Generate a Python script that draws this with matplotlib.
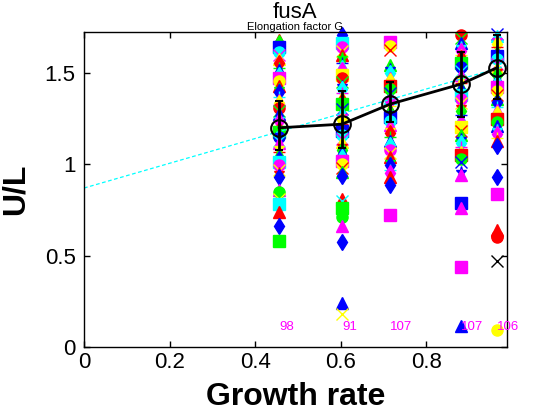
import matplotlib
matplotlib.use('Agg')
import matplotlib.pyplot as plt

plt.rcParams['font.family'] = ['Liberation Sans', 'DejaVu Sans']

# growth rate of each condition and its summary numbers
growth = [0.456, 0.603, 0.716, 0.882, 0.966]
counts = [98, 91, 107, 107, 106]
mean_ul = [1.20, 1.22, 1.33, 1.44, 1.53]
err_low = [0.12, 0.13, 0.10, 0.18, 0.17]
err_high = [0.145, 0.18, 0.12, 0.175, 0.18]

# linear fit drawn over the whole range
fit_x = [0.0, 0.988]
fit_y = [0.87, 1.54]

# dense per-gene U/L values in each column
col1 = [1.68, 1.665, 1.64, 1.615, 1.60, 1.575, 1.555, 1.53, 1.515, 1.49, 1.47, 1.455,
        1.43, 1.41, 1.395, 1.37, 1.35, 1.335, 1.31, 1.29, 1.275, 1.25, 1.235, 1.21,
        1.19, 1.175, 1.15, 1.13, 1.115, 1.09, 1.07, 1.055, 1.03, 1.01, 0.995, 0.97, 0.955]
col2 = [1.71, 1.665, 1.645, 1.62, 1.60, 1.58, 1.555, 1.54, 1.515, 1.49, 1.475, 1.45,
        1.43, 1.41, 1.39, 1.37, 1.345, 1.33, 1.305, 1.28, 1.265, 1.24, 1.22, 1.20,
        1.185, 1.16, 1.14, 1.12, 1.10, 1.08, 1.065, 1.04, 1.02, 1.00, 0.98, 0.96, 0.935]
col3 = [1.67, 1.65, 1.625, 1.545, 1.52, 1.50, 1.475, 1.455, 1.43, 1.41, 1.39, 1.365,
        1.345, 1.32, 1.30, 1.28, 1.26, 1.235, 1.215, 1.19, 1.17, 1.15, 1.125, 1.105,
        1.08, 1.06, 1.04, 1.015, 0.995, 0.97, 0.955]
col4 = [1.71, 1.69, 1.665, 1.645, 1.62, 1.60, 1.58, 1.555, 1.535, 1.51, 1.49, 1.47,
        1.445, 1.425, 1.40, 1.38, 1.36, 1.335, 1.315, 1.29, 1.27, 1.25, 1.225, 1.205,
        1.18, 1.16, 1.14, 1.115, 1.095, 1.07, 1.05, 1.03, 1.01]
col5 = [1.715, 1.70, 1.68, 1.66, 1.64, 1.615, 1.595, 1.575, 1.55, 1.53, 1.51, 1.49,
        1.465, 1.445, 1.425, 1.40, 1.38, 1.36, 1.34, 1.315, 1.295, 1.275, 1.25, 1.23,
        1.21, 1.19, 1.165, 1.145, 1.125]
columns = [col1, col2, col3, col4, col5]

# low outliers of each column
low1 = [0.93, 0.86, 0.85, 0.81, 0.78, 0.74, 0.66, 0.58]
low2 = [0.81, 0.80, 0.76, 0.71, 0.66, 0.575, 0.24, 0.18]
low3 = [0.93, 0.885, 0.725]
low4 = [0.96, 0.94, 0.79, 0.76, 0.44, 0.115]
low5 = [1.10, 0.93, 0.84, 0.64, 0.61, 0.60, 0.47, 0.09]
lows = [low1, low2, low3, low4, low5]

# styles (MATLAB pure colours)
R, G, B, C, M, Y, K = '#ff0000', '#00ff00', '#0000ff', '#00ffff', '#ff00ff', '#ffff00', '#000000'
colors = [R, G, B, C, M, Y]
markers = ['^', 'd', 's', 'o', 'x', '^', '*', 'd', '+']
low_styles = [
    [(B, 'd'), (M, '^'), (G, 'o'), (Y, 'x'), (C, 's'), (R, '^'), (B, 'd'), (G, 's')],
    [(R, '^'), (C, 'x'), (G, 's'), (G, 'o'), (M, '^'), (B, 'd'), (B, '^'), (Y, 'x')],
    [(R, '^'), (B, 'd'), (M, 's')],
    [(B, '*'), (M, '^'), (B, 's'), (M, '^'), (M, 's'), (B, '^')],
    [(B, 'd'), (B, 'd'), (M, 's'), (R, '^'), (R, 'o'), (R, 'o'), (K, 'x'), (Y, 'o')],
]


def draw_point(ax, x, y, c, m):
    if m in ('x', '+', '*'):
        ax.plot(x, y, marker=m, color=c, ms=8, mew=1.0, ls='none', clip_on=False)
    else:
        ax.plot(x, y, marker=m, color=c, mfc=c, mec=c, ms=8, ls='none', clip_on=False)


fig = plt.figure(figsize=(5.6, 4.2), dpi=100)
ax = fig.add_axes([0.15, 0.174, 0.755, 0.75])

for j, x in enumerate(growth):
    for i, y in enumerate(columns[j]):
        c = colors[(i + 2 * j) % 6]
        m = markers[(i + i // 6 + j) % 9]
        draw_point(ax, x, y, c, m)
    for y, (c, m) in zip(lows[j], low_styles[j]):
        draw_point(ax, x, y, c, m)
    ax.text(x, 0.11, str(counts[j]), color=M, fontsize=9.5, ha='left', va='center')

ax.plot(fit_x, fit_y, '--', color=C, lw=0.9, dashes=(3, 2))

ax.errorbar(growth, mean_ul, yerr=[err_low, err_high], color='k', lw=2,
            elinewidth=2, capsize=3, capthick=2, marker='o', ms=12,
            mfc='none', mec='k', mew=1.5, zorder=5)

ax.set_xlim(0, 0.988)
ax.set_ylim(0, 1.725)
ax.set_xticks([0, 0.2, 0.4, 0.6, 0.8])
ax.set_xticklabels(['0', '0.2', '0.4', '0.6', '0.8'])
ax.set_yticks([0, 0.5, 1, 1.5])
ax.set_yticklabels(['0', '0.5', '1', '1.5'])
ax.tick_params(direction='in', top=True, right=True, length=4, width=1, labelsize=16)
ax.tick_params(axis='x', pad=4)
ax.tick_params(axis='y', pad=6)
for s in ax.spines.values():
    s.set_linewidth(1)

ax.set_xlabel('Growth rate', fontsize=23, fontweight='bold', labelpad=6)
ax.set_ylabel('U/L', fontsize=23, fontweight='bold', labelpad=10)
ax.text(0.5, 1.044, 'fusA', transform=ax.transAxes, ha='center', va='baseline', fontsize=16)
ax.text(0.5, 1.007, 'Elongation factor G', transform=ax.transAxes, ha='center',
        va='baseline', fontsize=8)

fig.savefig('out.png', dpi=100)
